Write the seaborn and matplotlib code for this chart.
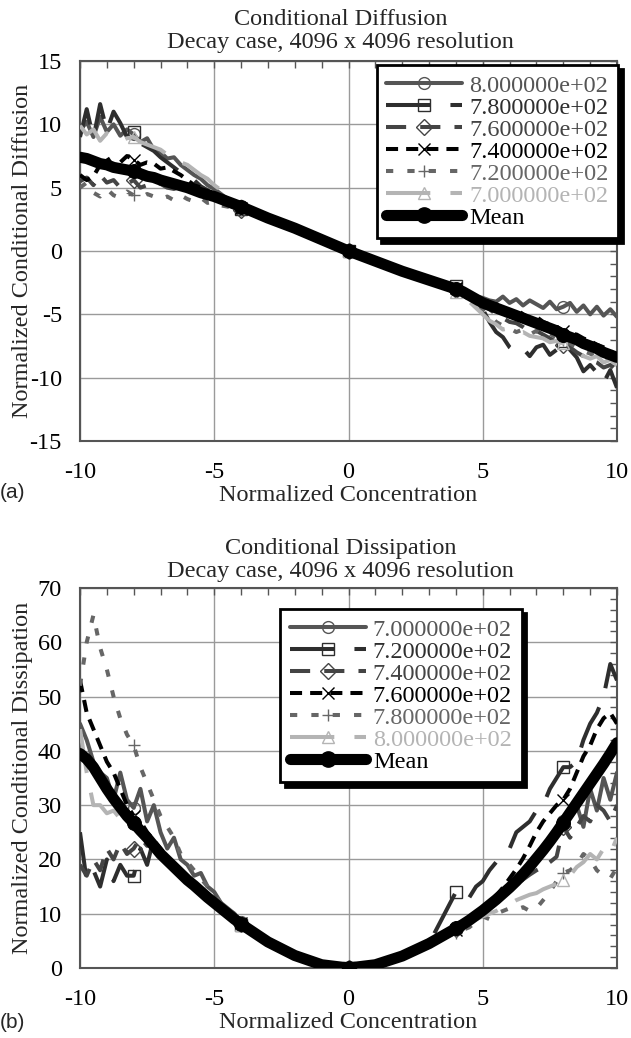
import matplotlib
matplotlib.use("Agg")
import matplotlib.pyplot as plt
import seaborn as sns
from matplotlib.lines import Line2D
from matplotlib.ticker import MultipleLocator

# ---------------- data ----------------
conc = [-10, -9.75, -9.5, -9.25, -9, -8.75, -8.5, -8.25, -8, -7.75, -7.5, -7.25, -7,
        -6.75, -6.5, -6.25, -6, -5.75, -5.5, -5.25, -5, -4.75, -4.5, -4.25, -4,
        -3, -2, -1, 0, 1, 2, 3,
        4, 4.25, 4.5, 4.75, 5, 5.25, 5.5, 5.75, 6, 6.25, 6.5, 6.75, 7, 7.25, 7.5,
        7.75, 8, 8.25, 8.5, 8.75, 9, 9.25, 9.5, 9.75, 10]
marker_at = [-8, -4, 0, 4, 8]

# Panel (a): conditional diffusion
diff_labels = ["8.000000e+02", "7.800000e+02", "7.600000e+02",
               "7.400000e+02", "7.200000e+02", "7.000000e+02"]
diff_800 = [9.5, 10.2, 9.0, 10.6, 9.4, 10.0, 9.1, 9.6, 9.2, 8.6, 8.9, 8.0, 7.8, 7.3, 7.4, 6.8, 6.4, 6.0, 5.7, 5.2, 4.9, 4.5, 4.1, 3.8, 3.5,
            2.6, 1.8, 0.9, 0.0, -0.8, -1.6, -2.3,
            -3.0, -3.1, -3.4, -3.6, -3.7, -3.9, -4.0, -3.6, -4.1, -3.8, -4.3, -3.9, -4.2, -4.5, -4.0, -4.6, -4.4, -4.1, -4.8, -4.3, -5.0, -4.4, -5.1, -4.6, -5.2]
diff_780 = [9.0, 11.2, 8.9, 11.6, 9.5, 11.0, 10.1, 9.0, 9.4, 8.5, 8.2, 7.9, 7.4, 7.0, 6.6, 6.2, 5.8, 5.6, 5.1, 4.8, 4.4, 4.0, 3.8, 3.6, 3.3,
            2.7, 1.9, 0.9, 0.0, -0.8, -1.5, -2.2,
            -2.8, -3.1, -3.6, -4.2, -4.6, -5.6, -6.4, -6.8, -7.6, -8.0, -7.7, -8.3, -7.6, -7.4, -8.2, -7.8, -7.1, -7.8, -8.4, -9.5, -9.0, -9.6, -10.4, -9.4, -10.8]
diff_760 = [5.5, 5.8, 5.2, 6.0, 5.4, 5.6, 5.0, 5.3, 5.6, 5.0, 5.2, 5.4, 5.3, 5.0, 4.9, 5.1, 4.8, 4.6, 4.4, 4.5, 4.2, 4.0, 3.8, 3.5, 3.2,
            2.5, 1.8, 0.9, 0.0, -0.8, -1.6, -2.4,
            -3.1, -3.3, -3.6, -4.0, -4.3, -4.6, -5.0, -5.3, -5.6, -5.7, -6.0, -6.4, -6.3, -6.6, -6.9, -7.2, -7.4, -7.6, -8.0, -8.3, -8.6, -8.8, -9.2, -9.0, -9.5]
diff_740 = [6.0, 5.6, 5.9, 6.8, 7.4, 6.6, 7.0, 7.5, 7.2, 6.8, 7.0, 6.9, 6.5, 6.6, 6.3, 6.0, 5.6, 5.2, 5.0, 4.7, 4.4, 4.2, 3.9, 3.7, 3.4,
            2.6, 1.8, 0.9, 0.0, -0.8, -1.6, -2.3,
            -2.9, -3.1, -3.3, -3.7, -4.0, -4.4, -4.2, -4.6, -4.9, -4.6, -5.0, -5.3, -5.2, -5.6, -5.8, -6.0, -6.3, -6.5, -6.6, -6.9, -7.1, -7.4, -7.6, -7.9, -8.2]
diff_720 = [5.0, 5.4, 4.6, 4.3, 4.9, 4.4, 4.2, 4.7, 4.4, 4.2, 4.5, 4.3, 4.1, 4.3, 4.0, 4.4, 4.1, 3.9, 4.2, 3.8, 3.9, 3.6, 3.5, 3.4, 3.2,
            2.6, 1.8, 0.9, 0.0, -0.8, -1.6, -2.3,
            -3.2, -3.5, -3.8, -4.3, -4.6, -5.0, -5.6, -5.9, -6.1, -6.4, -6.2, -6.6, -6.3, -6.8, -6.5, -6.9, -7.0, -7.3, -7.6, -7.9, -8.1, -8.4, -8.7, -8.5, -8.8]
diff_700 = [9.9, 9.2, 9.6, 8.7, 9.3, 8.8, 8.7, 8.9, 9.0, 8.6, 8.4, 8.2, 8.0, 7.6, 7.3, 7.0, 6.8, 6.4, 6.0, 5.7, 5.2, 4.8, 4.4, 4.0, 3.6,
            2.6, 1.8, 0.9, 0.0, -0.8, -1.6, -2.3,
            -3.2, -3.6, -4.0, -4.5, -5.0, -5.5, -5.8, -6.2, -6.1, -6.5, -6.4, -6.7, -6.8, -6.9, -7.2, -7.1, -7.3, -7.6, -7.9, -8.3, -8.5, -8.3, -8.8, -8.6, -9.0]
diff_mean = [7.4, 7.3, 7.1, 6.9, 6.8, 6.6, 6.5, 6.4, 6.3, 6.1, 5.9, 5.8, 5.6, 5.45, 5.3, 5.15, 5.0, 4.8, 4.6, 4.45, 4.3, 4.1, 3.9, 3.7, 3.5,
             2.6, 1.8, 0.9, 0.0, -0.8, -1.6, -2.3,
             -3.0, -3.2, -3.5, -3.8, -4.1, -4.3, -4.5, -4.7, -4.9, -5.1, -5.3, -5.5, -5.7, -5.9, -6.1, -6.3, -6.6, -6.8, -7.0, -7.3, -7.5, -7.7, -8.0, -8.2, -8.4]

# Panel (b): conditional dissipation
diss_labels = ["7.000000e+02", "7.200000e+02", "7.400000e+02",
               "7.600000e+02", "7.800000e+02", "8.000000e+02"]
diss_700 = [45, 42, 38, 36, 35, 31, 36, 31, 29.5, 33, 27, 30, 25, 22, 24, 20, 19, 17, 17.5, 15, 14, 12, 11, 10, 8.5,
            4.8, 2.3, 0.6, 0.0, 0.6, 2.2, 4.5,
            7.2, 7.8, 8.5, 9.4, 10.2, 11.0, 12.0, 13.2, 14.5, 15.5, 17.0, 18.5, 20.0, 21.0, 23.0, 24.5, 27.0, 28.0, 30.0, 26.0, 33.0, 29.0, 35.0, 31.0, 36.0]
diss_720 = [25, 16, 18, 15, 20, 16, 19, 17, 17, 22, 19, 24, 21, 20, 19, 17.5, 16.5, 15.3, 14.3, 13, 12, 11, 10, 9, 8,
            4.8, 2.3, 0.6, 0.0, 0.6, 2.2, 4.5,
            14, 14.5, 13, 15, 16, 18, 19.5, 21, 22, 25, 26, 27, 29, 30, 33, 35, 37, 37, 38, 42, 45, 47, 50, 56, 53]
diss_740 = [19, 17, 20, 18, 22, 20, 23, 21, 22, 24, 22.5, 23, 21.5, 20, 19, 17.8, 16.5, 15.3, 14.3, 13.1, 12, 11, 10, 9, 8.1,
            4.8, 2.3, 0.6, 0.0, 0.6, 2.2, 4.5,
            7.2, 7.9, 8.6, 9.4, 10.3, 11.2, 12.2, 13.2, 14.2, 15.2, 16.3, 17.2, 18.0, 18.6, 19.5, 20.5, 26.0, 24.0, 26.0, 28.0, 27.0, 30.0, 29.0, 27.0, 30.0]
diss_760 = [53, 47, 44, 41, 38, 36, 33, 30, 28, 27, 25, 23.5, 22, 20.5, 19.2, 18, 16.8, 15.6, 14.5, 13.4, 12.3, 11.2, 10.2, 9.2, 8.2,
            4.8, 2.3, 0.6, 0.0, 0.6, 2.2, 4.5,
            7.0, 7.8, 8.7, 9.7, 10.8, 12.0, 13.3, 14.8, 16.5, 18.2, 20.2, 22.5, 25.0, 27.0, 28.5, 30.0, 31.0, 33.0, 36.0, 39.0, 41.0, 44.0, 46.0, 47.0, 45.0]
diss_780 = [52, 60, 65, 59, 55, 50, 46, 43, 41, 37, 34, 31, 28, 26, 24, 21, 19.5, 18, 16.5, 15, 13.5, 12, 11, 10, 8.5,
            4.8, 2.3, 0.6, 0.0, 0.6, 2.2, 4.5,
            6.5, 7.0, 7.5, 8.5, 9.5, 9.0, 10.0, 10.5, 11.0, 10.8, 11.2, 10.5, 11.0, 12.5, 14.0, 16.0, 17.5, 18.0, 19.0, 21.0, 20.0, 18.0, 17.0, 16.5, 18.5]
diss_800 = [44, 36, 30, 30, 28.5, 29, 27.5, 28.5, 27, 25.5, 24, 23, 21.5, 20, 19, 17.5, 16.5, 15.5, 14.5, 13.2, 12, 11, 10, 9, 8,
            4.8, 2.3, 0.6, 0.0, 0.6, 2.2, 4.5,
            7.5, 8.0, 8.5, 9.0, 9.5, 10.0, 10.5, 11.2, 11.8, 12.5, 13.0, 13.5, 13.8, 14.5, 15.0, 15.5, 16.2, 17.0, 18.6, 19.5, 21.0, 20.0, 22.0, 21.0, 24.0]
diss_mean = [39.5, 38.5, 37.0, 35.0, 33.0, 31.2, 29.6, 28.0, 26.7, 25.3, 24.0, 22.5, 21.0, 19.8, 18.6, 17.4, 16.2, 15.2, 14.1, 13.0, 12.0, 11.0, 10.0, 9.0, 8.1,
             4.8, 2.3, 0.6, 0.0, 0.6, 2.2, 4.5,
             7.3, 8.0, 8.8, 9.7, 10.6, 11.6, 12.6, 13.7, 14.8, 16.0, 17.3, 18.7, 20.2, 21.7, 23.3, 25.0, 26.8, 28.6, 30.4, 32.2, 34.0, 35.8, 37.6, 39.5, 41.5]

# ---------------- styling ----------------
sns.set_style("white")
plt.rcParams["font.family"] = ["Liberation Serif", "DejaVu Serif"]
plt.rcParams["axes.unicode_minus"] = False

STYLES = [
    dict(color="#555555", ls="-", marker="o"),
    dict(color="#2e2e2e", ls=(0, (11, 5)), marker="s"),
    dict(color="#444444", ls=(0, (5, 3.5)), marker="D"),
    dict(color="#000000", ls=(0, (3, 2)), marker="x"),
    dict(color="#666666", ls=(0, (1.8, 3.5)), marker="+"),
    dict(color="#b4b4b4", ls=(0, (11, 5)), marker="^"),
]
LW = 2.9
MS = 8.5
FS = 17.5
mk_idx = [conc.index(v) for v in marker_at]

W, H = 631, 1038
fig = plt.figure(figsize=(W / 100, H / 100), dpi=100)


def draw_panel(ax_rect, series, labels, mean, ylim, ymaj, ymin, ylabel,
               title1, title2, tb1, tb2, legend_anchor, panel_label, plabel_y):
    ax = fig.add_axes(ax_rect)
    for vals, st in zip(series, STYLES):
        sns.lineplot(x=conc, y=vals, ax=ax, color=st["color"], linestyle=st["ls"],
                     lw=LW, marker=st["marker"], markevery=mk_idx, ms=MS,
                     mfc="none", mec=st["color"], mew=1.0, sort=False,
                     estimator=None, legend=False, zorder=3)
    sns.lineplot(x=conc, y=mean, ax=ax, color="black", lw=8, marker="o",
                 markevery=mk_idx, ms=10, mfc="black", mec="black",
                 sort=False, estimator=None, legend=False, zorder=4)

    ax.set_xlim(-10, 10)
    ax.set_ylim(*ylim)
    ax.xaxis.set_major_locator(MultipleLocator(5))
    ax.xaxis.set_minor_locator(MultipleLocator(1))
    ax.yaxis.set_major_locator(MultipleLocator(ymaj))
    ax.yaxis.set_minor_locator(MultipleLocator(ymin))
    ax.grid(True, which="major", color="#9a9a9a", lw=1.0, zorder=0)
    ax.set_axisbelow(True)
    ax.tick_params(which="both", direction="in", top=True, right=True,
                   length=5, width=1, color="#555555", labelsize=FS,
                   labelcolor="black")
    ax.tick_params(axis="y", which="major", pad=13)
    ax.tick_params(axis="x", which="major", pad=15)
    for sp in ax.spines.values():
        sp.set_color("#555555")
        sp.set_linewidth(1.5)

    ax.set_xlabel("Normalized Concentration", fontsize=FS)
    ax.set_ylabel(ylabel, fontsize=FS)
    ax.xaxis.set_label_coords(0.5, -0.115)
    ax.xaxis.label.set_va("top")
    ax.yaxis.set_label_coords(-0.088, 0.5)

    fig.text(0.54, 1 - tb1 / H, title1, ha="center", va="baseline", fontsize=FS)
    fig.text(0.54, 1 - tb2 / H, title2, ha="center", va="baseline", fontsize=FS)
    fig.text(0.0, 1 - plabel_y / H, panel_label, ha="left", va="center",
             fontsize=15, family=["Liberation Sans", "DejaVu Sans"])

    handles = [Line2D([], [], color=st["color"], ls=st["ls"], lw=LW,
                      marker=st["marker"], ms=MS, mfc="none", mec=st["color"],
                      mew=1.0) for st in STYLES]
    handles.append(Line2D([], [], color="black", lw=8, marker="o", ms=11,
                          mfc="black", mec="black"))
    leg = ax.legend(handles, list(labels) + ["Mean"], loc="upper right",
                    bbox_to_anchor=legend_anchor, borderaxespad=0,
                    fontsize=FS, handlelength=3.1, handletextpad=0.3,
                    labelspacing=0.0, borderpad=0.4, numpoints=1,
                    fancybox=False, framealpha=1, edgecolor="black",
                    shadow={"ox": 3.2, "oy": -3.2, "facecolor": "black",
                            "edgecolor": "black", "alpha": 1})
    leg.get_frame().set_linewidth(2.0)
    for txt, st in zip(leg.get_texts(), STYLES + [dict(color="black")]):
        txt.set_color(st["color"])
    leg.set_zorder(10)
    return ax


draw_panel([80 / W, 1 - 441 / H, 537 / W, 380 / H],
           [diff_800, diff_780, diff_760, diff_740, diff_720, diff_700],
           diff_labels, diff_mean, (-15, 15), 5, 1,
           "Normalized Conditional Diffusion",
           "Conditional Diffusion", "Decay case, 4096 x 4096 resolution",
           25, 48, (1.002, 0.99), "(a)", 493)

draw_panel([80 / W, 1 - 968 / H, 537 / W, 380 / H],
           [diss_700, diss_720, diss_740, diss_760, diss_780, diss_800],
           diss_labels, diss_mean, (0, 70), 10, 2,
           "Normalized Conditional Dissipation",
           "Conditional Dissipation", "Decay case, 4096 x 4096 resolution",
           554, 577, (0.823, 0.945), "(b)", 1023)

fig.savefig("out.png", dpi=100)
